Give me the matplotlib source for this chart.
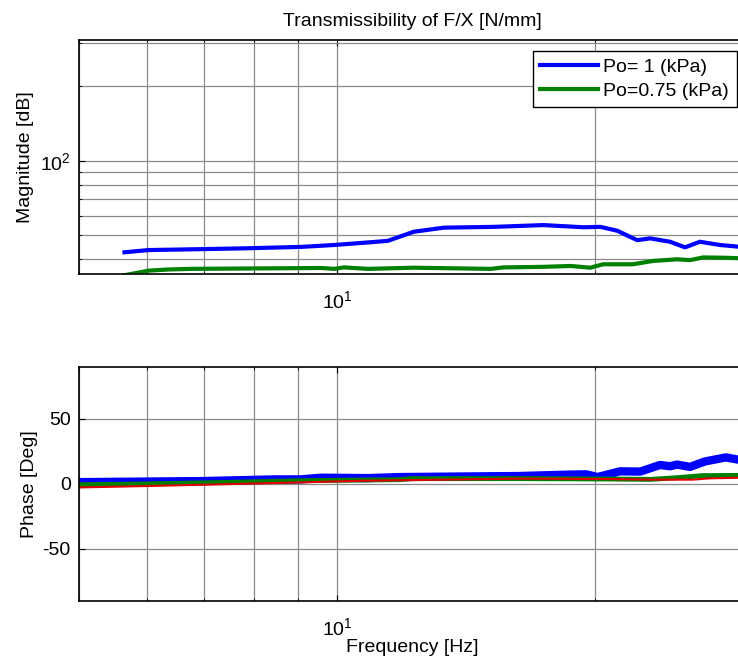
import numpy as np
import matplotlib
matplotlib.use("Agg")
import matplotlib.pyplot as plt
from matplotlib.ticker import LogLocator, NullFormatter, LogFormatterSciNotation, FixedLocator

plt.rcParams["font.family"] = ["Liberation Sans", "DejaVu Sans"]
plt.rcParams["mathtext.default"] = "regular"
plt.rcParams["axes.unicode_minus"] = False

# magnitude
f_mag_po1 = [5.65, 6.03, 6.77, 7.80, 9.08, 9.92, 10.87, 11.46, 12.29, 13.32, 15.22,
             17.41, 19.38, 20.28, 21.22, 22.39, 23.18, 24.46, 25.46, 26.5, 27.96, 29.6]
mag_po1 = [42.6, 43.5, 43.8, 44.2, 44.8, 45.6, 46.7, 47.4, 51.6, 53.6, 54.0,
           54.9, 53.8, 54.0, 52.1, 47.7, 48.5, 47.0, 44.6, 47.0, 45.6, 44.8]

f_mag_po075 = [5.65, 6.03, 6.36, 6.77, 9.58, 9.92, 10.19, 10.87, 12.29, 15.10, 15.64,
               17.41, 18.72, 19.74, 20.44, 22.14, 23.37, 24.92, 25.80, 26.72, 28.18, 29.6]
mag_po075 = [34.4, 35.9, 36.3, 36.5, 36.8, 36.5, 37.0, 36.5, 36.9, 36.5, 37.0,
             37.2, 37.5, 36.9, 38.1, 38.1, 39.3, 39.9, 39.6, 40.6, 40.5, 40.3]

# phase
f_ph_po1 = [5.0, 6.95, 8.45, 9.06, 9.58, 10.87, 11.84, 16.32, 18.72, 19.53, 20.12,
            21.39, 22.57, 23.81, 24.46, 24.92, 25.80, 26.86, 28.41, 29.6]
ph_po1 = [1.2, 2.0, 3.3, 3.3, 4.6, 4.3, 5.1, 5.9, 7.0, 7.2, 5.1,
          9.5, 9.3, 14.4, 13.4, 14.7, 12.9, 17.1, 20.2, 18.1]

f_ph_po075 = [5.0, 5.8, 6.77, 7.7, 9.06, 11.84, 12.2, 16.32, 20.6, 23.2, 24.9, 26.7, 29.6]
ph_po075 = [-0.8, -0.3, 0.5, 1.2, 2.3, 3.1, 3.9, 3.9, 3.6, 3.3, 4.6, 6.2, 6.4]

f_ph_ref = [5.0, 6.0, 7.3, 9.06, 10.6, 16.32, 20.6, 23.2, 26.0, 27.2, 29.6]
ph_ref = [-2.9, -1.8, -0.5, 1.0, 2.2, 3.9, 3.6, 3.1, 3.1, 4.1, 4.6]

legend_labels = ["Po= 1 (kPa)", "Po=0.75 (kPa)"]

fig = plt.figure(figsize=(7.38, 6.69), dpi=100)
ax1 = fig.add_axes([0.107, 0.590, 0.904, 0.350])
ax2 = fig.add_axes([0.107, 0.102, 0.904, 0.350])

ax1.loglog(f_mag_po1, mag_po1, color="#0000ff", lw=3, label=legend_labels[0])
ax1.loglog(f_mag_po075, mag_po075, color="#008000", lw=3, label=legend_labels[1])
ax1.set_ylim(34.7, 308)

ax2.semilogx(f_ph_po1, ph_po1, color="#0000ff", lw=6, solid_capstyle="butt")
ax2.semilogx(f_ph_po075, ph_po075, color="#008000", lw=3.5, solid_capstyle="butt")
ax2.semilogx(f_ph_ref, ph_ref, color="#e00000", lw=1.5)
ax2.set_ylim(-90, 90)
ax2.yaxis.set_major_locator(FixedLocator([-50, 0, 50]))

for ax in (ax1, ax2):
    ax.set_xlim(5, 30)
    ax.xaxis.set_major_locator(LogLocator(base=10))
    ax.xaxis.set_minor_locator(LogLocator(base=10, subs=np.arange(2, 10)))
    ax.xaxis.set_major_formatter(LogFormatterSciNotation())
    ax.xaxis.set_minor_formatter(NullFormatter())
    ax.grid(True, which="both", color="#8a8a8a", lw=0.9)
    ax.tick_params(which="both", direction="in", top=True, right=True,
                   labelsize=14, pad=6, colors="black")
    ax.tick_params(axis="x", which="both", pad=11.5)
    ax.tick_params(which="major", length=4)
    ax.tick_params(which="minor", length=2.5)
    for s in ax.spines.values():
        s.set_linewidth(1.2)

ax1.yaxis.set_minor_formatter(NullFormatter())

ax1.set_title("Transmissibility of F/X [N/mm]", fontsize=14, pad=10)
ax1.set_ylabel("Magnitude [dB]", fontsize=14)
ax1.yaxis.set_label_coords(-0.068, 0.5)
ax2.set_ylabel("Phase [Deg]", fontsize=14)
ax2.yaxis.set_label_coords(-0.062, 0.5)
ax2.set_xlabel("Frequency [Hz]", fontsize=14, labelpad=0)

leg = ax1.legend(loc="upper right", bbox_to_anchor=(737 / 738, 1 - 50.7 / 669),
                 bbox_transform=fig.transFigure, borderaxespad=0, fontsize=14,
                 frameon=True, fancybox=False, edgecolor="black", framealpha=1,
                 handlelength=2.95, handletextpad=0.3, labelspacing=0.3, borderpad=0.4)
leg.get_frame().set_linewidth(1.0)

fig.savefig("out.png", dpi=100)
